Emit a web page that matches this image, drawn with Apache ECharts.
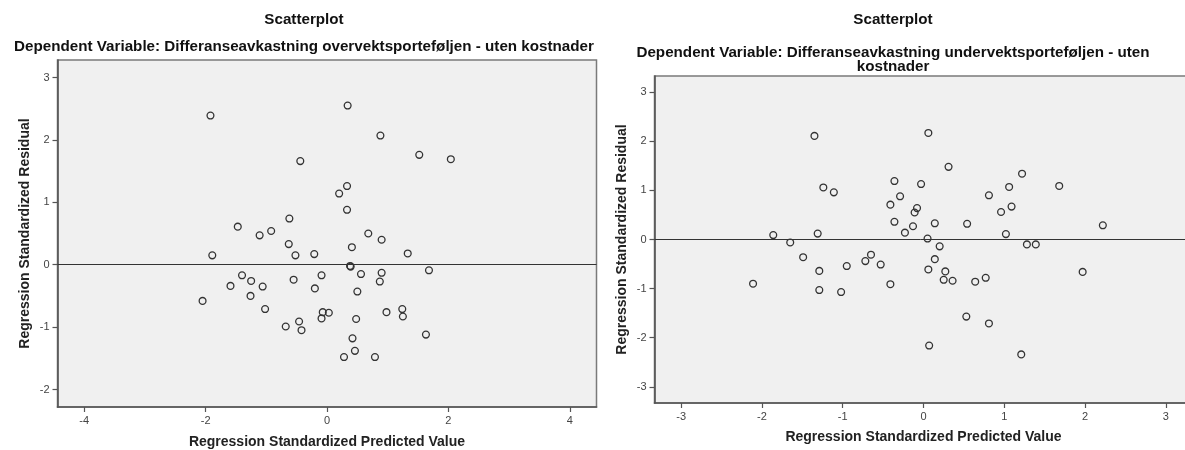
<!DOCTYPE html>
<html>
<head>
<meta charset="utf-8">
<title>Scatterplot</title>
<script src="https://cdn.jsdelivr.net/npm/echarts@6/dist/echarts.min.js"></script>
<style>
  html, body { margin: 0; padding: 0; background: #ffffff; }
  #chart { width: 1185px; height: 450px; }
</style>
</head>
<body>
<div id="chart"></div>
<script>
// Titles
const mainTitle = 'Scatterplot';
const leftSubtitle = 'Dependent Variable: Differanseavkastning overvektsporteføljen - uten kostnader';
const rightSubtitle = 'Dependent Variable: Differanseavkastning undervektsporteføljen - uten\nkostnader';
const xAxisTitle = 'Regression Standardized Predicted Value';
const yAxisTitle = 'Regression Standardized Residual';

// Overvekt model: standardized predicted value / standardized residual
const overPredicted = [
  -1.92, -0.44, 0.20, -1.47, -1.11, -0.92, -0.62, -0.63, -1.89, -0.52,
  -0.21, 0.34, 0.88, 1.52, 2.04, 0.33, 0.33, 0.68, 0.90, 0.41,
  1.33, -1.40, -1.25, -1.59, -1.06, -0.55, -0.09, -0.20, -1.26, -2.05,
  -1.02, -0.07, 0.03, -0.09, -0.68, -0.46, -0.42, 0.38, 0.39, 0.56,
  0.90, 1.68, 0.87, 0.50, 0.98, 1.24, 1.25, 0.48, 1.63, 0.42,
  0.46, 0.28, 0.79
];
const overResidual = [
  2.39, 1.66, 1.14, 0.61, 0.47, 0.54, 0.74, 0.33, 0.15, 0.15,
  0.17, 2.55, 2.07, 1.76, 1.69, 1.26, 0.88, 0.50, 0.40, 0.28,
  0.18, -0.17, -0.26, -0.34, -0.35, -0.24, -0.17, -0.38, -0.50, -0.58,
  -0.71, -0.76, -0.77, -0.86, -0.99, -0.91, -1.05, -0.02, -0.03, -0.15,
  -0.13, -0.09, -0.27, -0.43, -0.76, -0.71, -0.83, -0.87, -1.12, -1.18,
  -1.38, -1.48, -1.48
];

// Undervekt model: standardized predicted value / standardized residual
const underPredicted = [
  -1.35, -1.24, -1.11, -0.36, -0.29, -0.41, -0.36, -1.86, -1.65, -1.31,
  -1.49, -0.65, -0.72, 0.06, 0.31, -0.03, 1.22, 1.06, 1.68, 0.81,
  -0.08, -0.11, 0.96, 1.09, -0.13, -0.23, 0.14, 0.54, 2.22, 0.05,
  1.02, 0.20, 1.28, 1.39, 0.14, -1.29, -0.95, -0.53, -2.11, -1.29,
  -1.02, -0.41, 0.06, 0.27, 0.25, 0.36, 0.64, 0.77, 1.97, 0.53,
  0.81, 0.07, 1.21
];
const underResidual = [
  2.11, 1.06, 0.96, 1.19, 0.88, 0.71, 0.36, 0.09, -0.06, 0.12,
  -0.36, -0.31, -0.44, 2.17, 1.48, 1.13, 1.34, 1.07, 1.09, 0.90,
  0.64, 0.55, 0.56, 0.67, 0.27, 0.14, 0.33, 0.32, 0.29, 0.02,
  0.11, -0.14, -0.10, -0.10, -0.40, -0.64, -0.54, -0.51, -0.90, -1.03,
  -1.07, -0.91, -0.61, -0.65, -0.82, -0.84, -0.86, -0.78, -0.66, -1.57,
  -1.71, -2.16, -2.34
];

// Tick positions and axis extents
const leftXTicks = [-4, -2, 0, 2, 4];
const leftYTicks = [-2, -1, 0, 1, 2, 3];
const rightXTicks = [-3, -2, -1, 0, 1, 2, 3];
const rightYTicks = [-3, -2, -1, 0, 1, 2, 3];
const leftXRange = [-4.44, 4.44];
const leftYRange = [-2.28, 3.28];
const rightXRange = [-3.33, 3.33];
const rightYRange = [-3.33, 3.33];

const FONT = '"Liberation Sans", Arial, Helvetica, sans-serif';

function pairs(xs, ys) {
  return xs.map((x, i) => [x, ys[i]]);
}

function valueAxis(gridIndex, range, ticks, extra) {
  return Object.assign({
    type: 'value',
    gridIndex: gridIndex,
    min: range[0],
    max: range[1],
    splitLine: { show: false },
    axisLine: { show: true, onZero: false, lineStyle: { color: '#555555', width: 1.6 } },
    axisTick: { show: true, inside: false, length: 5, customValues: ticks,
                lineStyle: { color: '#555555', width: 1.2 } },
    axisLabel: { show: true, customValues: ticks, fontFamily: FONT, fontSize: 11,
                 color: '#444444', margin: 8 },
    nameLocation: 'middle',
    nameTextStyle: { fontFamily: FONT, fontSize: 14, fontWeight: 'bold', color: '#222222' }
  }, extra);
}

function scatterSeries(idx, data) {
  return {
    type: 'scatter',
    xAxisIndex: idx,
    yAxisIndex: idx,
    data: data,
    symbol: 'circle',
    symbolSize: 6.8,
    itemStyle: { color: 'rgba(0,0,0,0)', borderColor: '#333333', borderWidth: 1.3, opacity: 1 },
    emphasis: { disabled: true },
    markLine: {
      silent: true,
      symbol: ['none', 'none'],
      label: { show: false },
      lineStyle: { color: '#333333', width: 1, type: 'solid' },
      data: [{ yAxis: 0 }],
      animation: false
    },
    z: 3
  };
}

const titleStyle = { fontFamily: FONT, fontSize: 15.2, fontWeight: 'bold', color: '#111111', lineHeight: 14 };

const chart = echarts.init(document.getElementById('chart'), null, { renderer: 'canvas' });
chart.setOption({
  animation: false,
  backgroundColor: '#ffffff',
  title: [
    { text: mainTitle, left: 304, top: 13, textAlign: 'center', padding: 0, textStyle: titleStyle },
    { text: leftSubtitle, left: 304, top: 40, textAlign: 'center', padding: 0, textStyle: titleStyle },
    { text: mainTitle, left: 893, top: 13, textAlign: 'center', padding: 0, textStyle: titleStyle },
    { text: rightSubtitle, left: 893, top: 46, textAlign: 'center', padding: 0, textStyle: titleStyle }
  ],
  grid: [
    { left: 57.5, top: 60, width: 539, height: 347, show: true, outerBoundsMode: 'none',
      backgroundColor: '#F0F0F0', borderColor: '#7a7a7a', borderWidth: 1.5 },
    { left: 654.5, top: 76, width: 538, height: 327, show: true, outerBoundsMode: 'none',
      backgroundColor: '#F0F0F0', borderColor: '#7a7a7a', borderWidth: 1.5 }
  ],
  xAxis: [
    valueAxis(0, leftXRange, leftXTicks, { position: 'bottom', name: xAxisTitle, nameGap: 28 }),
    valueAxis(1, rightXRange, rightXTicks, { position: 'bottom', name: xAxisTitle, nameGap: 27 })
  ],
  yAxis: [
    valueAxis(0, leftYRange, leftYTicks, { position: 'left', name: yAxisTitle, nameGap: 25, nameRotate: 90 }),
    valueAxis(1, rightYRange, rightYTicks, { position: 'left', name: yAxisTitle, nameGap: 25, nameRotate: 90 })
  ],
  series: [
    scatterSeries(0, pairs(overPredicted, overResidual)),
    scatterSeries(1, pairs(underPredicted, underResidual))
  ]
});
</script>
</body>
</html>
